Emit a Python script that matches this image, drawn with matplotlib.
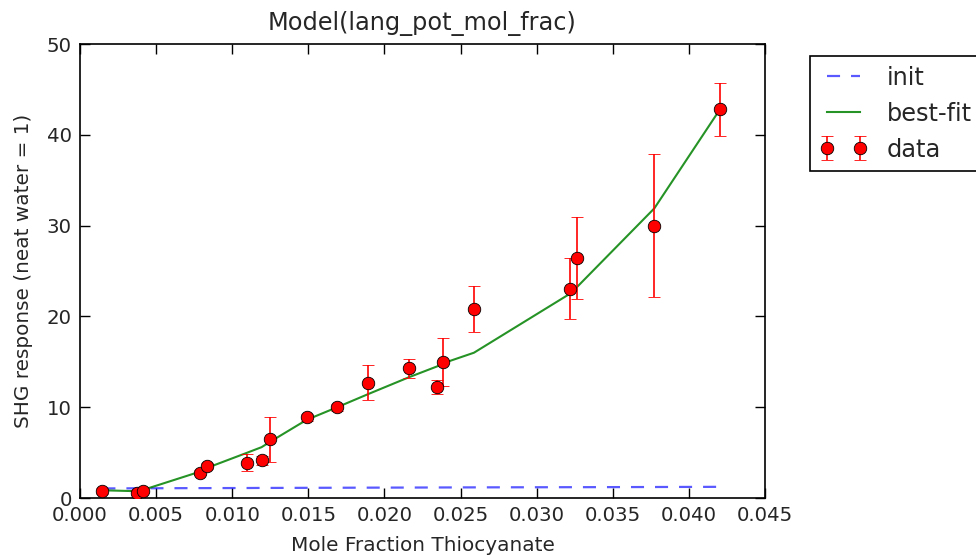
import matplotlib
matplotlib.use("Agg")
import matplotlib.pyplot as plt
import numpy as np

# Mole fraction of thiocyanate and measured SHG response
mol_frac = [0.00147, 0.00372, 0.00416, 0.00788, 0.00832, 0.01100, 0.01193,
            0.01250, 0.01488, 0.01690, 0.01894, 0.02161, 0.02347, 0.02387,
            0.02588, 0.03219, 0.03263, 0.03773, 0.04204]
shg = [0.77, 0.58, 0.80, 2.8, 3.5, 3.9, 4.15,
       6.45, 8.9, 10.0, 12.7, 14.3, 12.25, 14.95,
       20.8, 23.05, 26.4, 30.0, 42.8]
shg_err = [0.3, 0.3, 0.3, 0.3, 0.3, 0.95, 0.5,
           2.45, 0.4, 0.4, 1.9, 1.05, 0.8, 2.65,
           2.5, 3.35, 4.5, 7.9, 2.9]

# Model evaluated with initial parameters and with best-fit parameters
init_curve = [1.05, 1.07, 1.07, 1.09, 1.09, 1.10, 1.11,
              1.11, 1.12, 1.13, 1.14, 1.15, 1.16, 1.16,
              1.17, 1.19, 1.19, 1.21, 1.23]
fit_curve = [0.85, 0.75, 0.90, 2.9, 3.3, 5.0, 5.6,
             6.2, 8.6, 10.0, 11.45, 13.3, 14.5, 14.85,
             16.0, 22.5, 23.2, 31.9, 42.8]

plt.rcParams.update({
    "font.family": "DejaVu Sans",
    "font.size": 14.4,
    "text.color": "#262626",
    "axes.labelcolor": "#262626",
    "xtick.color": "black",
    "ytick.color": "black",
    "xtick.labelcolor": "#262626",
    "ytick.labelcolor": "#262626",
    "axes.linewidth": 1.2,
    "xtick.direction": "in",
    "ytick.direction": "in",
    "xtick.top": True,
    "ytick.right": True,
    "xtick.major.size": 7,
    "ytick.major.size": 7,
    "xtick.major.width": 1.0,
    "ytick.major.width": 1.0,
    "xtick.major.pad": 6,
    "ytick.major.pad": 6,
    "lines.scale_dashes": False,
})

fig = plt.figure(figsize=(9.76, 5.57), dpi=100)
ax = fig.add_axes([80 / 976, 59 / 557, 685 / 976, 454 / 557])

ax.plot(mol_frac, init_curve, color="blue", alpha=0.65, lw=1.6,
        dashes=(9.4, 7.9), label="init")
ax.plot(mol_frac, fit_curve, color="green", lw=1.5, alpha=0.85, label="best-fit")
ax.errorbar(mol_frac, shg, yerr=shg_err, fmt="o", color="red",
            ecolor="red", elinewidth=1.2, capsize=4.5, capthick=1.2,
            markersize=9, markeredgecolor="black", markeredgewidth=0.6,
            label="data", zorder=3)

ax.set_xlim(0.0, 0.045)
ax.set_ylim(0, 50)
ax.set_xticks(np.arange(0, 0.0451, 0.005))
ax.set_yticks(np.arange(0, 51, 10))
ax.xaxis.set_major_formatter(matplotlib.ticker.FormatStrFormatter("%.3f"))
ax.tick_params(labelsize=14.2)

ax.set_title("Model(lang_pot_mol_frac)", fontsize=17.3, pad=10)
ax.set_xlabel("Mole Fraction Thiocyanate", fontsize=14.4, labelpad=8)
ax.set_ylabel("SHG response (neat water = 1)", fontsize=14.4, labelpad=10)

leg = ax.legend(loc="upper left", bbox_to_anchor=(810 / 976, 1 - 56 / 557),
                bbox_transform=fig.transFigure, borderaxespad=0,
                numpoints=2, fontsize=17.3, fancybox=False, framealpha=1,
                edgecolor="black", handlelength=2.0, handletextpad=0.8,
                labelspacing=0.5, borderpad=0.4)
leg.get_frame().set_linewidth(1.2)

fig.savefig("out.png", dpi=100)
